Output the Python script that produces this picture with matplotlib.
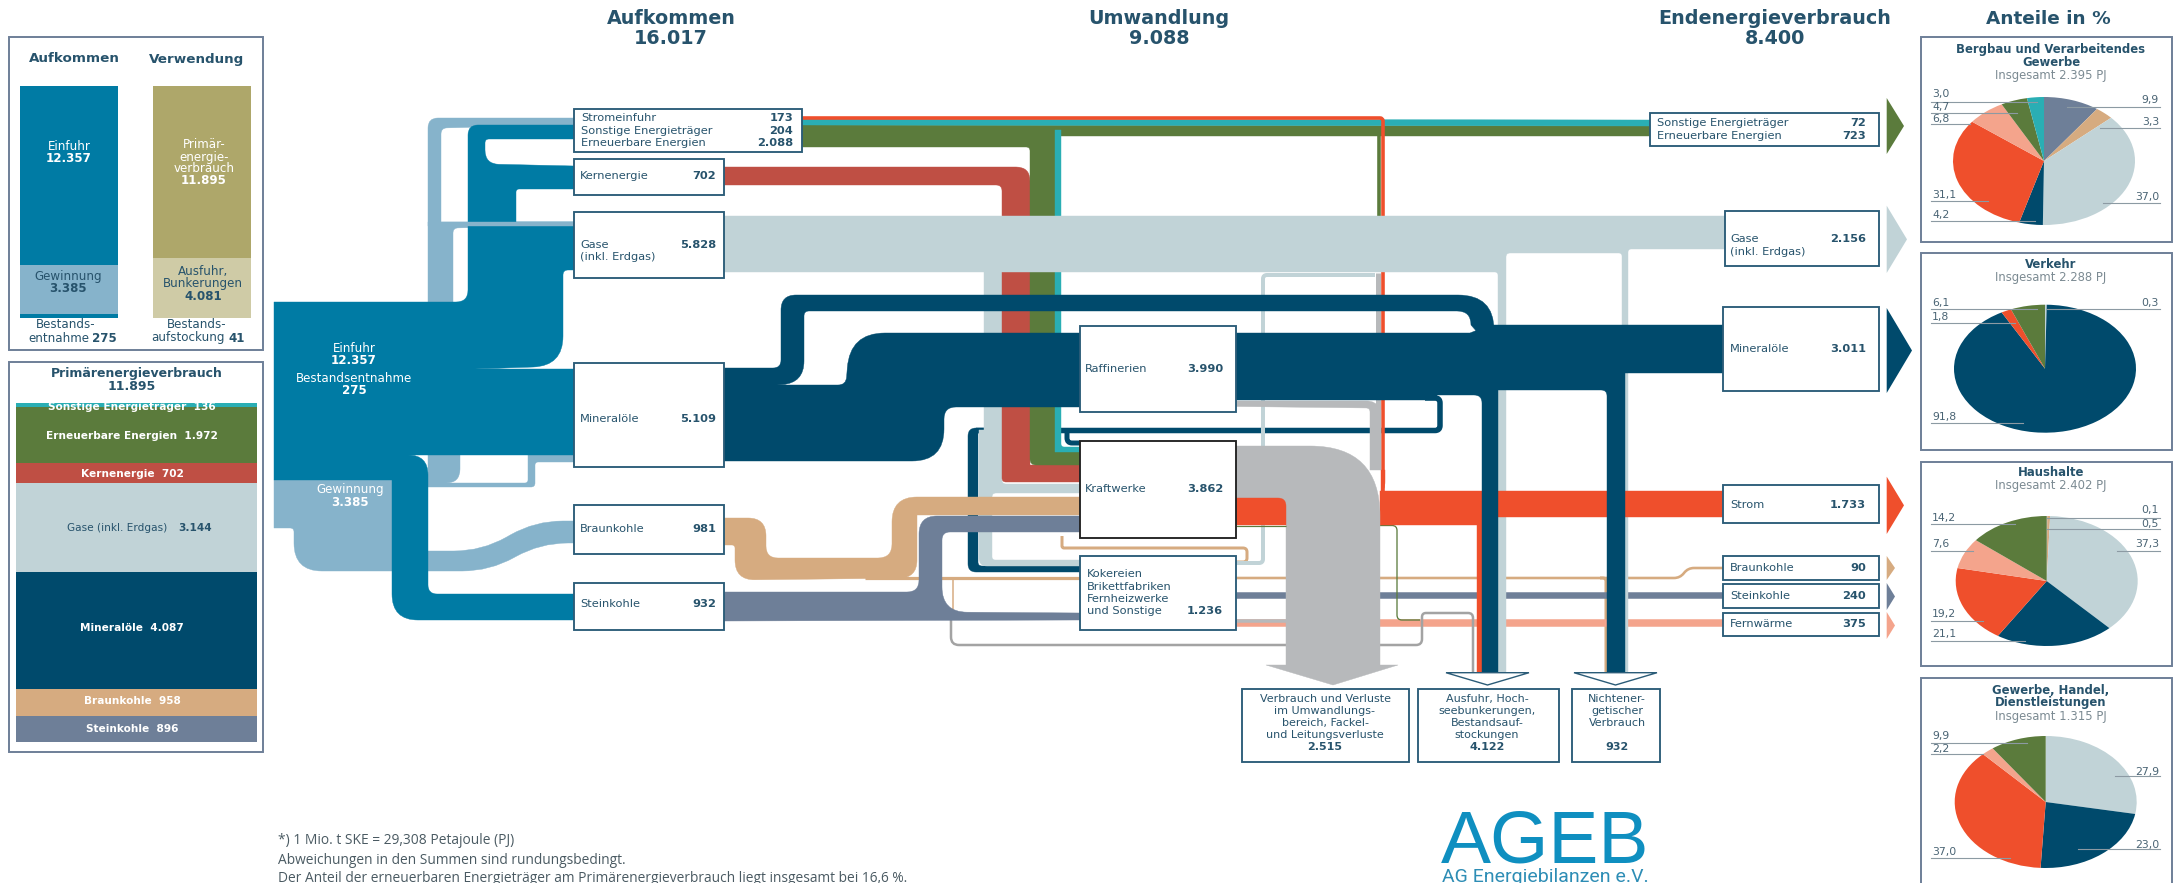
import math
import matplotlib
matplotlib.use("Agg")
import matplotlib.pyplot as plt
from matplotlib.path import Path
from matplotlib.patches import PathPatch, Rectangle, Polygon

# ---------- data ----------
aufkommen_values = [12357, 3385, 275]
verwendung_values = [11895, 4081, 41]
primaer_labels = ["Sonstige Energieträger", "Erneuerbare Energien", "Kernenergie", "Gase (inkl. Erdgas)",
                  "Mineralöle", "Braunkohle", "Steinkohle"]
primaer_values = [136, 1972, 702, 3144, 4087, 958, 896]

pie_titles = [["Bergbau und Verarbeitendes", "Gewerbe"], ["Verkehr"], ["Haushalte"],
              ["Gewerbe, Handel,", "Dienstleistungen"]]
pie_totals = [2395, 2288, 2402, 1315]
pie1_values = [9.9, 3.3, 37.0, 4.2, 31.1, 6.8, 4.7, 3.0]
pie2_values = [0.3, 91.8, 1.8, 6.1]
pie3_values = [0.1, 0.5, 37.3, 21.1, 19.2, 7.6, 14.2]
pie4_values = [27.9, 23.0, 37.0, 2.2, 9.9]

# ---------- styles ----------
W, H = 2174, 883
C = dict(teal="#007BA4", light="#86B3CB", pale="#C1D3D7", dark="#004A6C", kern="#BF4F44", green="#5B7B3C",
         cyan="#2AAEB4", tan="#D6AB80", slate="#6E7F98", strom="#EF4F2C", salmon="#F4A48C", gray="#B7B9BB",
         olive="#AEA76A", oliv2="#CFCBA6", line="#A3A3A3")
TXT = "#27536C"
EDGE = "#2B5C78"
PANEL = "#6E7F98"
FONT = "DejaVu Sans"
plt.rcParams["font.family"] = [FONT]

pie1_colors = [C[k] for k in ["slate", "tan", "pale", "dark", "strom", "salmon", "green", "cyan"]]
pie2_colors = [C[k] for k in ["pale", "dark", "strom", "green"]]
pie3_colors = [C[k] for k in ["slate", "tan", "pale", "dark", "strom", "salmon", "green"]]
pie4_colors = [C[k] for k in ["pale", "dark", "strom", "salmon", "green"]]
primaer_colors = [C[k] for k in ["cyan", "green", "kern", "pale", "dark", "tan", "slate"]]

fig = plt.figure(figsize=(W / 100, H / 100), dpi=100)
ax = fig.add_axes([0, 0, 1, 1])
ax.set_xlim(0, W)
ax.set_ylim(H, 0)
ax.axis("off")
top = fig.add_axes([0, 0, 1, 1], zorder=5)
top.set_xlim(0, W)
top.set_ylim(H, 0)
top.axis("off")
top.patch.set_alpha(0)


def build(pts, closed):
    pts = [p if len(p) == 3 else (p[0], p[1], 0) for p in pts]
    n = len(pts)
    verts, codes = [], []
    for i, (x, y, r) in enumerate(pts):
        first = i == 0
        last = i == n - 1
        if r and (closed or not (first or last)):
            px, py, _ = pts[i - 1]
            nx, ny, _ = pts[(i + 1) % n]
            d1 = math.hypot(px - x, py - y)
            d2 = math.hypot(nx - x, ny - y)
            r1 = min(r, d1)
            r2 = min(r, d2)
            a = (x + (px - x) * r1 / d1, y + (py - y) * r1 / d1)
            b = (x + (nx - x) * r2 / d2, y + (ny - y) * r2 / d2)
            verts.append(a)
            codes.append(Path.MOVETO if first else Path.LINETO)
            verts += [(x, y), b]
            codes += [Path.CURVE3, Path.CURVE3]
        else:
            verts.append((x, y))
            codes.append(Path.MOVETO if first else Path.LINETO)
    if closed:
        verts.append(verts[0])
        codes.append(Path.CLOSEPOLY)
    return Path(verts, codes)


def band(pts, color, z):
    ax.add_patch(PathPatch(build(pts, True), fc=color, ec=color, lw=0.3, zorder=z))


def stroke(pts, width, color, z):
    ax.add_patch(PathPatch(build(pts, False), fc="none", ec=color, lw=width * 0.72, zorder=z,
                           capstyle="butt", joinstyle="round"))


def T(x, y, s, size=8.2, ha="left", weight="normal", color=TXT, z=20, family=None, axis=None):
    (axis or ax).text(x, y, s, fontsize=size, ha=ha, va="center", fontweight=weight, color=color, zorder=z,
                      family=family or FONT, clip_on=False)


def box(x0, y0, x1, y1, ec=EDGE, lw=1.5, z=10):
    ax.add_patch(Rectangle((x0, y0), x1 - x0, y1 - y0, fc="white", ec=ec, lw=lw * 0.9, zorder=z))


def de(v):
    return f"{v:,}".replace(",", ".")


def stack(x0, x1, y0, k, values, colors, z=3):
    y = y0
    for v, c in zip(values, colors):
        ax.bar(x0, v * k, width=x1 - x0, bottom=y, align="edge", color=c, zorder=z)
        y += v * k


# ---------- left panels ----------
ax.add_patch(Rectangle((9, 36.6), 254, 313.4, fc="white", ec=PANEL, lw=1.4, zorder=1))
ax.add_patch(Rectangle((9, 361.5), 254, 390, fc="white", ec=PANEL, lw=1.4, zorder=1))
T(74, 59, "Aufkommen", 9.7, "center", "bold")
T(197, 59, "Verwendung", 9.7, "center", "bold")
k1 = 231.6 / sum(aufkommen_values)
stack(19.5, 117.5, 86, k1, aufkommen_values, [C["teal"], C["light"], C["teal"]])
stack(153, 251, 86, k1, verwendung_values, [C["olive"], C["oliv2"], C["oliv2"]])
PS = 8.6
for y, s, w in [(146, "Einfuhr", "normal"), (158, de(aufkommen_values[0]), "bold")]:
    T(69, y, s, PS, "center", w, "white")
for y, s in [(276.5, "Gewinnung"), (289, de(aufkommen_values[1]))]:
    T(68, y, s, PS, "center", "normal" if y < 280 else "bold")
T(66, 325, "Bestands-", PS, "center")
T(89, 338, "entnahme", PS, "right")
T(92, 338, str(aufkommen_values[2]), PS, "left", "bold")
for y, s, w in [(145, "Primär-", "normal"), (157, "energie-", "normal"), (169, "verbrauch", "normal"),
                (181, de(verwendung_values[0]), "bold")]:
    T(204, y, s, PS, "center", w, "white")
for y, s, w in [(271, "Ausfuhr,", "normal"), (283, "Bunkerungen", "normal"), (296, de(verwendung_values[1]), "bold")]:
    T(203, y, s, PS, "center", w)
T(197, 325, "Bestands-", PS, "center")
T(225, 338, "aufstockung", PS, "right")
T(228, 338, str(verwendung_values[2]), PS, "left", "bold")

T(137, 373, "Primärenergieverbrauch", 9.0, "center", "bold")
T(132, 387, de(sum(primaer_values)), 9.0, "center", "bold")
kp = 338.5 / sum(primaer_values)
stack(16, 257, 403, kp, primaer_values, primaer_colors)
pl_y = [406.5, 436, 474, 528, 628, 700.5, 729.5]
for lab, v, c, ly in zip(primaer_labels, primaer_values, primaer_colors, pl_y):
    if lab.startswith("Gase"):
        T(167, ly, lab, 7.6, "right")
        T(178, ly, de(v), 7.6, "left", "bold")
    else:
        T(132, ly, f"{lab}  {de(v)}", 7.6, "center", "bold", "white")

# ---------- sankey ----------
band([(428, 302), (428, 118, 10), (574, 118), (574, 125), (441, 128, 6), (441, 222), (574, 222), (574, 225.5),
      (453, 228, 5), (453, 302)], C["light"], 1)
band([(274, 480), (392, 480), (392, 551), (482, 551, 28), (535, 521, 28), (574, 521), (574, 543), (540, 543, 28),
      (490, 571, 28), (294, 571, 28), (294, 528, 4), (274, 528)], C["light"], 1)
band([(428, 440), (460, 440), (460, 483, 14), (428, 483)], C["light"], 1)
band([(428, 483), (528, 483, 3), (528, 450), (574, 450), (574, 462), (535, 462, 3), (535, 487, 4), (428, 487)],
     C["light"], 1)
band([(274, 302), (468, 302, 12), (468, 125, 10), (574, 125), (574, 139), (485, 139, 4), (485, 164, 14), (574, 166),
      (574, 189), (516, 189, 3), (516, 222), (574, 222), (574, 270), (563, 270, 5), (563, 366, 30), (475, 369),
      (574, 369), (574, 455), (407, 455), (428, 455, 20), (428, 594, 9), (574, 594), (574, 620), (392, 620, 26),
      (392, 480), (274, 480)], C["teal"], 2)
band([(428, 222), (574, 222), (574, 225.5), (428, 225.5)], C["light"], 2.1)

# dark return loop
stroke([(1425, 398), (1440, 398, 5), (1440, 430.5, 5), (976, 430.5)], 5.5, C["dark"], 2.5)
band([(984, 428), (968, 428, 8), (968, 572, 8), (1080, 572), (1080, 566), (978, 566, 4), (978, 433), (984, 433)],
     C["dark"], 2.5)
# verticals towards the power plants
band([(984, 270), (1002, 270), (1002, 484, 4), (1080, 484), (1080, 493), (992, 493, 4), (992, 560, 3), (1080, 560),
      (1080, 566), (979, 566, 8), (979, 430), (984, 430)], C["pale"], 3)
band([(724, 167), (1030, 167, 14), (1030, 465), (1080, 465), (1080, 482), (1002, 482, 4), (1002, 185, 6), (724, 185)],
     C["kern"], 3.1)
band([(802, 125), (1650, 126), (1650, 136), (1055, 136), (1055, 452), (1080, 452), (1080, 465), (1030, 465, 6),
      (1030, 147, 4), (802, 147)], C["green"], 3.2)
band([(802, 119), (1650, 120), (1650, 126), (802, 125)], C["cyan"], 3.3)
band([(1055, 130), (1061, 130), (1061, 447, 3), (1080, 447), (1080, 452), (1055, 452)], C["cyan"], 3.3)
stroke([(1067, 432), (1067, 443, 5), (1080, 443)], 5, C["dark"], 3.4)

# thin lines
stroke([(865, 578), (1080, 578)], 3.2, C["tan"], 3.5)
stroke([(953, 578), (953, 612)], 1.5, C["tan"], 3.5)
stroke([(1236, 578), (1680, 578, 6), (1688, 568, 6), (1723, 568)], 2.6, C["tan"], 3.5)
stroke([(1600, 578), (1606, 578, 3), (1606, 672)], 3, C["tan"], 3.5)
stroke([(1062, 536), (1062, 548, 2), (1247, 548, 4), (1247, 562, 4), (1236, 562)], 3, C["tan"], 3.5)
stroke([(1236, 595), (1723, 595)], 6.5, C["slate"], 3.6)
stroke([(1236, 623), (1723, 623)], 7.5, C["salmon"], 3.6)
stroke([(1375, 275), (1263, 275, 4), (1263, 563, 4), (1236, 563)], 4, C["pale"], 3.7)
stroke([(951, 620), (951, 645, 8), (1422, 645, 6), (1422, 613, 4), (1473, 613, 5), (1473, 672)], 2.5, C["line"], 3.8)
stroke([(1380, 525.5), (1397, 525.5, 5), (1397, 620, 5), (1420, 620)], 1.3, C["green"], 3.8)

# electricity
stroke([(802, 118), (1383, 118, 3), (1383, 491)], 3.6, C["strom"], 3.9)
stroke([(1379, 136), (1379, 216)], 3.6, C["green"], 3.9)
band([(1381, 470), (1385, 470), (1385, 491, 10), (1381, 491)], C["strom"], 3.9)
band([(1380, 491), (1725, 491), (1725, 517), (1482, 517), (1482, 672), (1477, 672), (1477, 525), (1380, 525)],
     C["strom"], 4.2)
# gas
band([(724, 216), (1725, 216), (1725, 249), (1628, 249, 3), (1628, 672), (1622, 672), (1622, 253, 3), (1506, 253, 4),
      (1506, 672), (1498, 672), (1498, 272, 3), (724, 272)], C["pale"], 4)
# coal
band([(724, 518), (766, 518, 18), (766, 558, 12), (892, 558, 14), (892, 497, 25), (1080, 497), (1080, 515), (917, 515),
      (917, 578, 18), (735, 580, 20), (735, 545, 3), (724, 545)], C["tan"], 4.3)
band([(724, 592), (919, 592, 12), (919, 516, 18), (1080, 516), (1080, 532), (942, 532, 8), (942, 612, 25), (1080, 613),
      (1080, 620), (724, 621)], C["slate"], 4.4)
# oil
band([(724, 368), (781, 368, 8), (781, 295, 15), (1494, 295, 36), (1494, 330), (1478, 333), (1471, 325),
      (1471, 311, 14), (804, 311, 5), (804, 383, 22), (777, 385), (846, 385, 8), (850, 333, 35), (1080, 333),
      (1080, 407), (944, 407, 12), (944, 461, 32), (724, 461)], C["dark"], 5)
band([(1236, 333), (1470, 333), (1490, 325), (1727, 325), (1727, 373), (1625, 373), (1625, 672), (1607, 672),
      (1607, 390, 6), (1498, 390), (1498, 672), (1482, 672), (1482, 395, 8), (1437, 395), (1437, 400), (1236, 400)],
     C["dark"], 5)
# conversion losses
stroke([(1378, 273), (1378, 410)], 5, C["gray"], 3.95)
band([(1236, 401), (1375, 401, 8), (1381, 410), (1381, 470), (1370, 470), (1370, 408, 4), (1236, 406.5)], C["gray"], 4.5)
band([(1236, 446), (1380, 446, 70), (1380, 665), (1398, 665), (1333, 685), (1266, 665), (1286, 665), (1286, 510),
      (1278, 510), (1278, 498), (1236, 498), (1236, 495)], C["gray"], 6)
band([(1236, 498), (1286, 498, 8), (1286, 525), (1236, 525)], C["strom"], 6.1)
stroke([(1236, 525.5), (1286, 525.5)], 1.2, C["green"], 6.2)
stroke([(1236, 620.5), (1286, 620.5)], 3.5, C["gray"], 6.2)

# open arrows
for x0, x1 in [(1446, 1529), (1574, 1657)]:
    ax.add_patch(Polygon([(x0, 672.7), (x1, 672.7), ((x0 + x1) / 2, 685)], closed=True, fc="white", ec=EDGE, lw=1.0, zorder=11))
# end arrows
for pts_y, tip, col in [((98, 154), 1904, "green"), ((205.7, 273), 1907, "pale"), ((308, 393), 1912, "dark"),
                        ((476.7, 534), 1904, "strom"), ((556, 580), 1895, "tan"), ((583, 610), 1895, "slate"),
                        ((612, 639), 1895, "salmon")]:
    y0, y1 = pts_y
    ax.add_patch(Polygon([(1886.7, y0), (tip, (y0 + y1) / 2), (1886.7, y1)], closed=True, fc=C[col], ec="none", zorder=8))

# ---------- node boxes ----------
box(574, 109, 802, 152)
box(574, 159, 724, 195)
box(574, 211.7, 724, 278)
box(574, 363, 724, 467)
box(574, 505, 724, 554)
box(574, 583, 724, 630)
box(1080, 326, 1236, 412)
box(1080, 441, 1236, 538, ec="#222222")
box(1080, 556, 1236, 630)
box(1650, 112.7, 1879, 146)
box(1725, 211, 1879, 265.7)
box(1723, 307, 1879, 390.7)
box(1723, 485, 1879, 522.7)
box(1723, 556, 1879, 580)
box(1723, 584, 1879, 608)
box(1723, 613, 1879, 636)
box(1241.6, 689.3, 1409, 762)
box(1418, 689.3, 1558.5, 762)
box(1572, 689.3, 1660, 762)

# sankey labels
for y, s, w in [(348, "Einfuhr", "normal"), (360, "12.357", "bold"), (378, "Bestandsentnahme", "normal"), (391, "275", "bold")]:
    T(354, y, s, PS, "center", w, "white", z=7)
T(350, 489, "Gewinnung", PS, "center", "normal", "white", z=7)
T(350, 502, "3.385", PS, "center", "bold", "white", z=7)

for y, a, b in [(118, "Stromeinfuhr", "173"), (130.5, "Sonstige Energieträger", "204"), (143, "Erneuerbare Energien", "2.088")]:
    T(581, y, a)
    T(793, y, b, ha="right", weight="bold")
for y, a, b in [(176, "Kernenergie", "702"), (245, "Gase", "5.828"), (419, "Mineralöle", "5.109"),
                (529, "Braunkohle", "981"), (604, "Steinkohle", "932")]:
    T(580, y, a)
    T(716, y, b, ha="right", weight="bold")
T(580, 257.5, "(inkl. Erdgas)")
T(1085, 369, "Raffinerien")
T(1223, 369, "3.990", ha="right", weight="bold")
T(1085, 489, "Kraftwerke")
T(1223, 489, "3.862", ha="right", weight="bold")
for y, s in [(574, "Kokereien"), (586.5, "Brikettfabriken"), (599, "Fernheizwerke"), (611.5, "und Sonstige")]:
    T(1087, y, s)
T(1223, 611.5, "1.236", ha="right", weight="bold")
for y, a, b in [(123, "Sonstige Energieträger", "72"), (136, "Erneuerbare Energien", "723")]:
    T(1657, y, a)
    T(1866, y, b, ha="right", weight="bold")
for y, a, b in [(239, "Gase", "2.156"), (349, "Mineralöle", "3.011"), (505, "Strom", "1.733"), (568, "Braunkohle", "90"),
                (596, "Steinkohle", "240"), (624, "Fernwärme", "375")]:
    T(1730, y, a)
    T(1866, y, b, ha="right", weight="bold")
T(1730, 252, "(inkl. Erdgas)")

bottom_y = [699, 711, 723, 735, 747.5]
for cx, lines in [(1325, ["Verbrauch und Verluste", "im Umwandlungs-", "bereich, Fackel-", "und Leitungsverluste", "2.515"]),
                  (1487, ["Ausfuhr, Hoch-", "seebunkerungen,", "Bestandsauf-", "stockungen", "4.122"]),
                  (1617, ["Nichtener-", "getischer", "Verbrauch", "", "932"])]:
    for y, s in zip(bottom_y, lines):
        T(cx, y, s, 8.0, "center", "bold" if s[0:1].isdigit() else "normal")

# headers
for cx, a, b in [(671, "Aufkommen", "16.017"), (1159, "Umwandlung", "9.088"), (1775, "Endenergieverbrauch", "8.400")]:
    T(cx, 19, a, 13.8, "center", "bold")
    T(cx, 38, b, 13.8, "center", "bold")
T(2048, 19, "Anteile in %", 13.3, "center", "bold")

# footnote
foot = ["*) 1 Mio. t SKE = 29,308 Petajoule (PJ)", "Abweichungen in den Summen sind rundungsbedingt.",
        "Der Anteil der erneuerbaren Energieträger am Primärenergieverbrauch liegt insgesamt bei 16,6 %."]
for y, s in zip([841, 860, 878], foot):
    T(278, y, s, 9.9, color="#4A5A62", family="Open Sans")
T(1545, 843, "AGEB", 54, "center", color="#0F8FC0", family="Liberation Sans")
T(1545, 877, "AG Energiebilanzen e.V.", 14, "center", "normal", "#2D8DB5", family="Roboto")

# ---------- pies ----------
panels = [(37, 242), (253, 450), (461.7, 665.7), (678, 890)]
centers = [(2044, 161, 64), (2045, 368.7, 64), (2046.7, 581, 65), (2045.7, 802, 66)]
title_y = [[49, 62], [265], [472], [690, 702.7]]
total_y = [76, 277, 486, 716.7]
all_vals = [pie1_values, pie2_values, pie3_values, pie4_values]
all_cols = [pie1_colors, pie2_colors, pie3_colors, pie4_colors]
RX = 91
for (y0, y1), (cx, cy, ry), ts, tys, total, ty, vals, cols in zip(panels, centers, pie_titles, title_y, pie_totals,
                                                                  total_y, all_vals, all_cols):
    ax.add_patch(Rectangle((1921, y0), 251, y1 - y0, fc="white", ec=PANEL, lw=1.4, zorder=1))
    for t, yy in zip(ts, tys):
        T(2051, yy, t, 8.4, "center", "bold")
    T(2051, ty, f"Insgesamt {de(total)} PJ", 8.4, "center", color="#7C8B93")
    pax = fig.add_axes([(cx - RX) / W, 1 - (cy + ry) / H, 2 * RX / W, 2 * ry / H], zorder=3)
    pax.pie(vals, colors=cols, startangle=90, counterclock=False, radius=1)
    pax.set_aspect("auto")
    pax.set_xlim(-1, 1)
    pax.set_ylim(-1, 1)

# leader lines: (pie index, value index, side, label y, line y, inner x)
leaders = [
    (0, 7, "L", 94, 101.7, 2037), (0, 6, "L", 107, 113, 2017), (0, 5, "L", 119, 124, 1970),
    (0, 4, "L", 195, 201, 1988), (0, 3, "L", 215, 221.3, 2035), (0, 0, "R", 100, 106.7, 2067),
    (0, 1, "R", 121.7, 127.7, 2100), (0, 2, "R", 197, 203, 2103),
    (1, 3, "L", 303, 308.7, 2037), (1, 2, "L", 317, 323, 2015), (1, 1, "L", 416.7, 423, 2023),
    (1, 0, "R", 303, 308.7, 2047),
    (2, 6, "L", 517.7, 524, 2015), (2, 5, "L", 544, 550.7, 1973), (2, 4, "L", 614, 620.7, 1983),
    (2, 3, "L", 634, 641, 2025), (2, 0, "R", 510, 518, 2047), (2, 1, "R", 524, 529, 2047),
    (2, 2, "R", 544, 551, 2117),
    (3, 4, "L", 736, 742.7, 2027), (3, 3, "L", 749, 754, 1983), (3, 2, "L", 851.7, 857.7, 2010),
    (3, 0, "R", 771.7, 775.7, 2115), (3, 1, "R", 845, 849, 2078),
]
for i, j, side, ly, ln, xi in leaders:
    s = f"{all_vals[i][j]:.1f}".replace(".", ",")
    if side == "L":
        top.plot([1931, xi], [ln, ln], color="#8C9AA3", lw=0.8)
        T(1932, ly, s, 7.8, "left", axis=top, color="#4A6474")
    else:
        top.plot([xi, 2160], [ln, ln], color="#8C9AA3", lw=0.8)
        T(2159, ly, s, 7.8, "right", axis=top, color="#4A6474")

fig.savefig("out.png", dpi=100)
